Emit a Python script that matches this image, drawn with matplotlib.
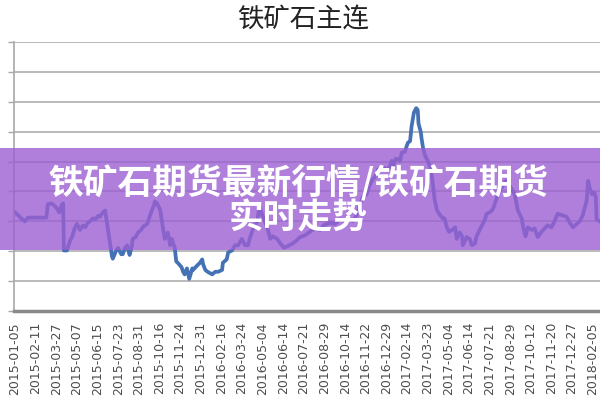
import matplotlib
matplotlib.use('Agg')
import matplotlib.pyplot as plt
from matplotlib.patches import Rectangle

plt.rcParams['font.family'] = ['Noto Sans CJK SC', 'DejaVu Sans']

# x-axis labels, one every 27 trading days
tick_dates = ['2015-01-05', '2015-02-11', '2015-03-27', '2015-05-07', '2015-06-15',
              '2015-07-23', '2015-08-31', '2015-10-16', '2015-11-24', '2015-12-31',
              '2016-02-16', '2016-03-24', '2016-05-04', '2016-06-14', '2016-07-21',
              '2016-08-29', '2016-10-14', '2016-11-22', '2016-12-29', '2017-02-14',
              '2017-03-23', '2017-05-04', '2017-06-14', '2017-07-21', '2017-08-29',
              '2017-10-12', '2017-11-20', '2017-12-27', '2018-02-05']
tick_step = 27

# price series (trading-day index, price)
day_idx = [0, 4, 8, 13, 17, 26, 35, 41, 43, 48, 52, 55, 58, 60, 61, 63, 64, 68, 72, 75,
           78, 81, 85, 89, 92, 95, 98, 102, 105, 109, 111, 115, 118, 120, 124, 127, 128,
           132, 135, 139, 141, 144, 147, 149, 150, 153, 154, 158, 161, 165, 167, 170, 173,
           177, 179, 182, 183,
           186, 190, 194, 196, 200, 203, 205, 209, 211, 213, 218, 220, 222, 225, 228, 232,
           233, 238, 242, 245, 246, 249, 252, 258, 262, 266, 271, 272, 277, 279, 284, 288,
           292, 297, 301, 305, 307, 311, 317, 320, 323, 327, 331, 334, 337, 343,
           347, 352, 357, 362, 368, 373, 379, 386, 392, 399, 405, 412, 419, 425, 432, 438,
           442, 446, 449, 451, 455, 460, 464, 468, 474, 475, 480, 484, 488, 491, 493, 494,
           498, 501, 504, 506, 510, 514, 517, 519, 522, 525, 527, 528, 531, 532, 534, 536,
           540, 543,
           545, 547, 549, 552, 556, 560, 562, 565, 568, 572, 576, 578, 582, 585, 586, 591,
           595, 598, 602, 604, 608, 611, 615, 617, 621, 625, 628, 632, 637, 642, 647, 654,
           658, 663, 665, 668, 671, 676, 680, 684, 689, 693, 697, 702, 706, 710, 715, 722,
           726, 730, 735, 739, 743, 748, 750, 752, 755, 758, 760, 761, 765]
price = [464, 457, 448, 440, 450, 450, 450, 450, 486, 488, 481, 474, 464, 476, 483, 488, 362,
         362, 388, 400, 421, 433, 417, 429, 424, 436, 440, 448, 445, 455, 452, 464, 469, 440,
         386, 345, 340, 360, 369, 352, 352, 369, 376, 357, 350, 374, 393, 398, 410, 417, 424,
         429, 433, 457, 469, 483, 493,
         488, 471, 417, 393, 410, 376, 393, 369, 333, 329, 317, 305, 298, 314, 286, 314, 310,
         321, 329, 338, 326, 310, 305, 298, 305, 305, 310, 329, 338, 357, 362, 376, 376, 393,
         376, 376, 393, 417, 440, 481, 460, 440, 417, 393, 400, 393,
         381, 369, 374, 379, 388, 398, 402, 412, 421, 417, 431, 436, 433, 445, 440, 445, 440,
         452, 469, 483, 505, 512, 536, 552, 567, 579, 576, 583, 579, 590, 602, 583, 607, 607,
         602, 624, 626, 650, 655, 695, 731, 743, 738, 702, 679, 662, 636, 619, 602, 588,
         567, 536, 500, 471, 457, 448, 448, 424, 412, 417, 424, 393, 410, 400, 376, 398, 393,
         376, 381, 400, 417, 429, 445, 460, 464, 471, 488, 512, 531, 548, 536, 512, 469, 448,
         424, 400, 424, 417, 421, 398, 412, 421, 429, 424, 440, 460, 457, 452, 436, 424, 433,
         440, 457, 495, 548, 529, 512, 517, 505, 445, 440]

fig = plt.figure(figsize=(6, 4), dpi=100)
ax = fig.add_axes([14 / 600, 1 - 311 / 400, 586 / 600, 269 / 400])

ax.plot(day_idx, price, color='#4472b4', lw=2.7, solid_joinstyle='round')

ax.set_xlim(-1.3, 765.5)
ax.set_ylim(200, 920)
ax.set_yticks(range(200, 921, 80))
ax.set_yticklabels([])
ax.yaxis.grid(True, color='#b4b4b4', lw=1.3)
ax.set_axisbelow(True)
ax.tick_params(axis='y', length=4, color='#a8a8a8', width=1)

ax.set_xticks([i * tick_step for i in range(len(tick_dates))])
ax.set_xticklabels(tick_dates, rotation=90, fontsize=9, color='#4d4d4d', family='DejaVu Sans')
ax.tick_params(axis='x', length=0, pad=8)

for s in ['top', 'right']:
    ax.spines[s].set_visible(False)
ax.spines['left'].set_color('#a8a8a8')
ax.spines['left'].set_linewidth(1.2)
ax.spines['bottom'].set_color('#8a8a8a')
ax.spines['bottom'].set_linewidth(2.5)

fig.text(0.505, 1 - 20 / 400, '铁矿石主连', ha='center', va='center', fontsize=19, color='#222222')

# purple banner over the middle of the chart
fig.add_artist(Rectangle((0, 1 - 250 / 400), 1, 102 / 400, transform=fig.transFigure,
                         facecolor='#9b5fd3', edgecolor='none', alpha=0.8, zorder=5))
fig.text(0.497, 1 - 182 / 400, '铁矿石期货最新行情/铁矿石期货', ha='center', va='center',
         fontsize=25, fontweight='bold', color='white', zorder=6)
fig.text(0.497, 1 - 218 / 400, '实时走势', ha='center', va='center',
         fontsize=25, fontweight='bold', color='white', zorder=6)

fig.savefig('out.png', dpi=100)
